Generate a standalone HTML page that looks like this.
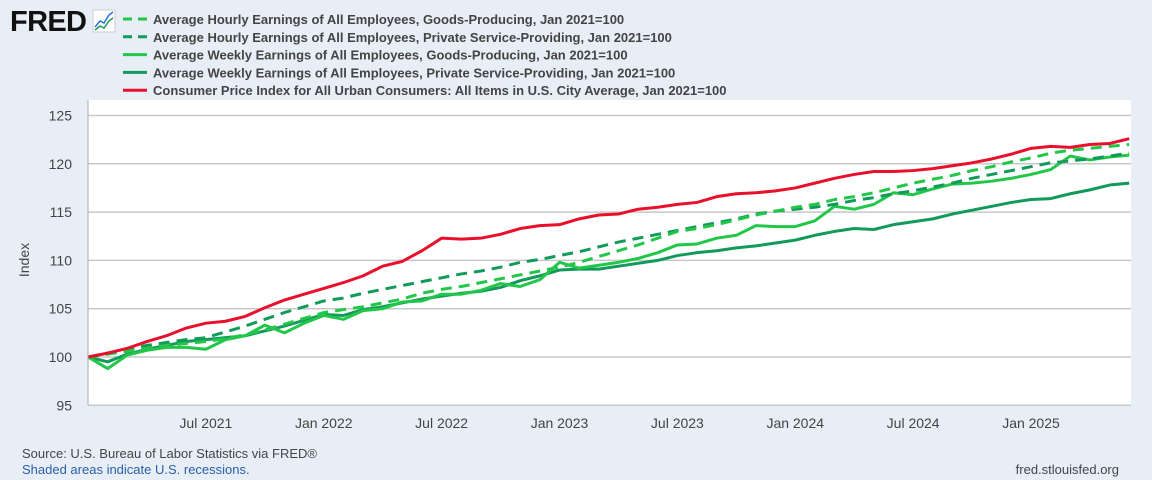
<!DOCTYPE html>
<html><head><meta charset="utf-8"><style>
body{margin:0;width:1152px;height:480px;background:#e8eef6;font-family:"Liberation Sans",sans-serif;overflow:hidden}
svg{display:block}
</style></head><body>
<svg id="c" width="1152" height="480">
<rect x="88" y="100" width="1043" height="305" fill="#fff"/>
<rect x="1131" y="100" width="21" height="305" fill="#e8eef6"/>
<text x="10" y="31" font-size="29" font-weight="bold" fill="#111" textLength="77">FRED</text>
<g><rect x="93" y="10" width="22" height="22" fill="#fff" stroke="#ccc"/><polyline points="95,27 100,21 104,23 109,15 113,12" fill="none" stroke="#2a6fd6" stroke-width="1.5"/><polyline points="95,30 100,26 104,28 109,21 113,18" fill="none" stroke="#1a9a5a" stroke-width="1.5"/></g>
<g id="legend"></g>
<g id="grid"></g><g id="series"></g>
<line x1="88" y1="100" x2="88" y2="405" stroke="#aab" stroke-width="1"/>
<text x="0" y="0" transform="translate(29,260) rotate(-90)" text-anchor="middle" font-size="14" fill="#444">Index</text>
<text x="22" y="458" font-size="13" fill="#444">Source: U.S. Bureau of Labor Statistics via FRED®</text>
<text x="22" y="474" font-size="13" fill="#2a5ea8">Shaded areas indicate U.S. recessions.</text>
<text x="1119" y="474" text-anchor="end" font-size="13" fill="#444">fred.stlouisfed.org</text>
</svg>
<script>
const yTicks=[95,100,105,110,115,120,125];
const xTickLabels=["Jul 2021","Jan 2022","Jul 2022","Jan 2023","Jul 2023","Jan 2024","Jul 2024","Jan 2025"];
const xTickMonths=[6,12,18,24,30,36,42,48];
const legendLabels=["Average Hourly Earnings of All Employees, Goods-Producing, Jan 2021=100","Average Hourly Earnings of All Employees, Private Service-Providing, Jan 2021=100","Average Weekly Earnings of All Employees, Goods-Producing, Jan 2021=100","Average Weekly Earnings of All Employees, Private Service-Providing, Jan 2021=100","Consumer Price Index for All Urban Consumers: All Items in U.S. City Average, Jan 2021=100"];
const aheGoods=[100,100.3,100.6,100.9,101.2,101.4,101.6,101.9,102.3,102.8,103.4,104.0,104.6,104.9,105.2,105.6,106.0,106.6,107.0,107.3,107.7,108.1,108.5,108.9,109.3,109.8,110.4,111.0,111.6,112.3,113.0,113.3,113.7,114.2,114.7,115.1,115.5,115.8,116.3,116.6,117.0,117.5,118.0,118.4,118.8,119.3,119.7,120.2,120.6,121.1,121.4,121.6,121.8,122.0];
const aheService=[100,100.4,100.8,101.2,101.5,101.8,102.0,102.6,103.2,103.9,104.6,105.2,105.8,106.1,106.6,107.0,107.4,107.8,108.2,108.6,108.9,109.3,109.8,110.1,110.5,110.9,111.4,111.9,112.3,112.7,113.1,113.5,113.9,114.3,114.8,115.1,115.3,115.5,115.8,116.2,116.5,116.9,117.2,117.6,118.0,118.5,118.9,119.3,119.7,120.1,120.3,120.5,120.8,121.1];
const aweGoods=[100,98.8,100.2,100.7,101.0,101.0,100.8,101.8,102.2,103.3,102.5,103.5,104.3,103.9,104.8,105.0,105.7,105.8,106.5,106.5,106.9,107.6,107.3,108.0,109.8,109.2,109.5,109.8,110.2,110.8,111.6,111.7,112.3,112.6,113.6,113.5,113.5,114.1,115.6,115.3,115.8,117.0,116.8,117.4,117.9,118.0,118.2,118.5,118.9,119.4,120.8,120.4,120.7,120.9];
const aweService=[100,99.5,100.3,100.8,101.2,101.6,101.8,102.0,102.2,102.7,103.2,103.8,104.4,104.3,104.9,105.2,105.6,106.0,106.3,106.6,106.8,107.2,107.9,108.4,109.0,109.1,109.1,109.4,109.7,110.0,110.5,110.8,111.0,111.3,111.5,111.8,112.1,112.6,113.0,113.3,113.2,113.7,114.0,114.3,114.8,115.2,115.6,116.0,116.3,116.4,116.9,117.3,117.8,118.0];
const cpi=[100,100.4,100.9,101.6,102.2,103.0,103.5,103.7,104.2,105.1,105.9,106.5,107.1,107.7,108.4,109.4,109.9,111.0,112.3,112.2,112.3,112.7,113.3,113.6,113.7,114.3,114.7,114.8,115.3,115.5,115.8,116.0,116.6,116.9,117.0,117.2,117.5,118.0,118.5,118.9,119.2,119.2,119.3,119.5,119.8,120.1,120.5,121.0,121.6,121.8,121.7,122.0,122.1,122.6];
const NS="http://www.w3.org/2000/svg";
const X=m=>88+m*(943/48), Y=v=>357-(v-100)*9.66;
function mk(t,a,p){const e=document.createElementNS(NS,t);for(const k in a)e.setAttribute(k,a[k]);p.appendChild(e);return e;}
const grid=document.getElementById('grid');
yTicks.forEach(v=>{
 const l=mk('line',{x1:88,x2:1131,y1:Y(v),y2:Y(v),stroke:'#c8c8c8','stroke-width':1.5},grid);
 
 
 const t=mk('text',{x:72,y:Y(v)+5,'text-anchor':'end','font-size':14,fill:'#444'},grid);t.textContent=v;
 
 
});
xTickLabels.forEach((s,i)=>{
 const t=mk('text',{x:X(xTickMonths[i]),y:428,'text-anchor':'middle','font-size':14,fill:'#444'},grid);t.textContent=s;
 
 
});
const styles=[{c:'#22c74a',d:'11 7'},{c:'#129a5b',d:'11 7'},{c:'#22c74a',d:''},{c:'#129a5b',d:''},{c:'#e8102b',d:''}];
const data=[aheGoods,aheService,aweGoods,aweService,cpi];
const names=['ahe-goods-line','ahe-service-line','awe-goods-line','awe-service-line','cpi-line'];
const order=[3,2,1,0,4];
const sg=document.getElementById('series');
order.forEach(i=>{
 const p=mk('polyline',{points:data[i].map((v,m)=>X(m)+','+Y(v)).join(' '),fill:'none',stroke:styles[i].c,'stroke-width':3,'stroke-dasharray':styles[i].d,'stroke-linejoin':'round'},sg);
 
 
});
const lg=document.getElementById('legend');
legendLabels.forEach((s,i)=>{
 const y=19+i*17.8;
 const l=mk('line',{x1:123,x2:147,y1:y,y2:y,stroke:styles[i].c,'stroke-width':3,'stroke-dasharray':i<2?'9 6':''},lg);
 
 
 const t=mk('text',{x:153,y:y+5,'font-size':13,'font-weight':'bold',fill:'#444'},lg);t.textContent=s;
 
 
});
</script>
</body></html>
